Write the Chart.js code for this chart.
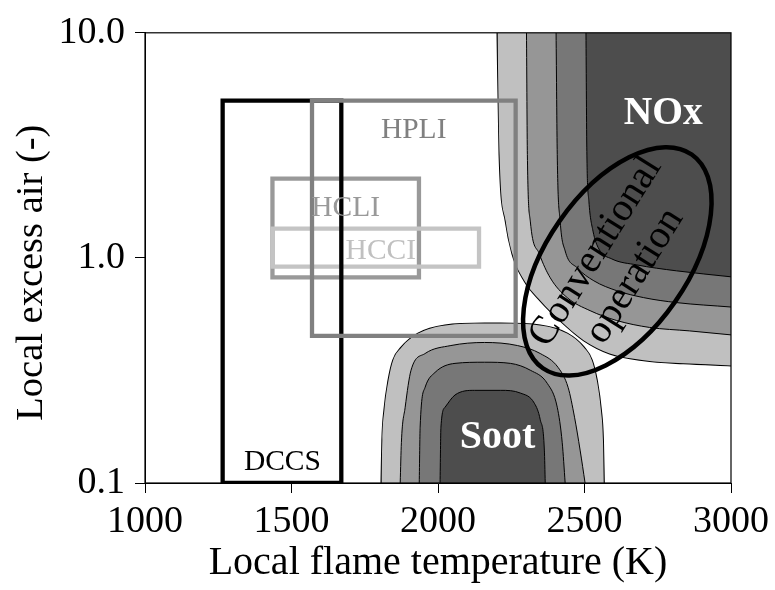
<!DOCTYPE html>
<html>
<head>
<meta charset="utf-8">
<script src="https://cdn.jsdelivr.net/npm/chart.js@4.4.1/dist/chart.umd.min.js"></script>
<style>
  html, body { margin: 0; padding: 0; background: #fff; }
  #wrap { width: 775px; height: 590px; }
</style>
</head>
<body>
<div id="wrap"><canvas id="chart" width="775" height="590"></canvas></div>
<script>
// Axis ticks
const tempTicks = [1000, 1500, 2000, 2500, 3000];
const airTicks = [0.1, 1.0, 10.0];

// NOx formation contours: [flame temperature K, excess air], outer band to core
const noxLevel1 = [[2203,10],[2210,2.88],[2231,1.457],[2254,1.041],[2295,0.791],[2349,0.646],[2417,0.527],[2498,0.430],[2586,0.376],[2702,0.351],[2837,0.340],[3000,0.333]];
const noxLevel2 = [[2302,10],[2305,2.88],[2315,1.457],[2346,1.041],[2383,0.816],[2441,0.666],[2519,0.583],[2610,0.527],[2722,0.491],[2858,0.474],[3000,0.455]];
const noxLevel3 = [[2403,10],[2407,2.88],[2417,1.457],[2434,1.074],[2475,0.903],[2532,0.791],[2610,0.715],[2702,0.666],[2814,0.633],[3000,0.605]];
const noxLevel4 = [[2505,10],[2508,2.97],[2515,1.786],[2529,1.316],[2549,1.096],[2593,0.990],[2678,0.931],[2814,0.876],[3000,0.824]];

// Soot formation contours
const sootLevel1 = [[1807,0.1],[1810,0.155],[1817,0.211],[1831,0.286],[1847,0.351],[1875,0.400],[1932,0.461],[2024,0.501],[2159,0.511],[2214,0.511],[2349,0.501],[2441,0.461],[2498,0.400],[2525,0.351],[2542,0.286],[2556,0.211],[2563,0.155],[2566,0.1]];
const sootLevel2 = [[1871,0.1],[1875,0.151],[1888,0.217],[1908,0.317],[1956,0.376],[2044,0.408],[2159,0.421],[2271,0.408],[2349,0.376],[2410,0.326],[2444,0.266],[2466,0.196],[2485,0.140],[2502,0.1]];
const sootLevel3 = [[1936,0.1],[1939,0.177],[1956,0.266],[1990,0.310],[2058,0.340],[2159,0.344],[2247,0.340],[2315,0.317],[2373,0.277],[2407,0.217],[2424,0.151],[2434,0.1]];
const sootLevel4 = [[2007,0.1],[2010,0.177],[2024,0.217],[2058,0.246],[2125,0.258],[2214,0.258],[2281,0.251],[2329,0.226],[2349,0.191],[2363,0.140],[2366,0.1]];

// Combustion concept windows: temperature range and excess-air range
const dccsTemp = [1265, 1670]; const dccsAir = [0.1, 5.0];
const hpliTemp = [1570, 2265]; const hpliAir = [0.45, 5.0];
const hcliTemp = [1435, 1935]; const hcliAir = [0.82, 2.25];
const hcciTemp = [1435, 2140]; const hcciAir = [0.915, 1.35];

const SERIF = "'Liberation Serif', 'Times New Roman', serif";
const bandColors = ['#c0c0c0', '#969696', '#777777', '#4d4d4d'];

const toPts = list => list.map(([t, a]) => ({ x: t, y: a }));
const boxPts = (t, a) => [
  { x: t[0], y: a[0] }, { x: t[0], y: a[1] }, { x: t[1], y: a[1] },
  { x: t[1], y: a[0] }, { x: t[0], y: a[0] }
];

function contour(list, color, fillTo, order, width) {
  return {
    data: toPts(list), fill: fillTo, backgroundColor: color,
    borderColor: width ? '#000' : 'rgba(0,0,0,0)', borderWidth: width,
    pointRadius: 0, cubicInterpolationMode: 'monotone', order
  };
}
function box(t, a, color, order) {
  return {
    data: boxPts(t, a), fill: false, borderColor: color, borderWidth: 4.3,
    borderJoinStyle: 'miter', borderCapStyle: 'square', pointRadius: 0, tension: 0, order
  };
}

const datasets = [
  // outer bands: outlines first, then repainted so the merged band has no inner seam
  contour(noxLevel1, bandColors[0], 'end', 100, 2),
  contour(sootLevel1, bandColors[0], 'start', 99, 2),
  contour(noxLevel1, bandColors[0], 'end', 98, 0),
  contour(sootLevel1, bandColors[0], 'start', 97, 0),
  contour(noxLevel2, bandColors[1], 'end', 90, 1),
  contour(sootLevel2, bandColors[1], 'start', 89, 1),
  contour(noxLevel3, bandColors[2], 'end', 80, 1),
  contour(sootLevel3, bandColors[2], 'start', 79, 1),
  contour(noxLevel4, bandColors[3], 'end', 70, 1),
  contour(sootLevel4, bandColors[3], 'start', 69, 1),
  box(hcliTemp, hcliAir, '#999999', 53),
  box(hcciTemp, hcciAir, '#c4c4c4', 52),
  box(dccsTemp, dccsAir, '#000000', 51),
  box(hpliTemp, hpliAir, '#808080', 50)
];

// Annotations placed in data coordinates
const conceptLabels = [
  { text: 'HPLI', at: [1917, 3.40], color: '#808080', size: 29.5, weight: 'normal' },
  { text: 'HCLI', at: [1685, 1.53], color: '#999999', size: 29.5, weight: 'normal' },
  { text: 'HCCI', at: [1805, 0.987], color: '#c0c0c0', size: 29.5, weight: 'normal' },
  { text: 'DCCS', at: [1469, 0.1145], color: '#000000', size: 29.5, weight: 'normal' },
  { text: 'NOx', at: [2769, 3.95], color: '#ffffff', size: 39.5, weight: 'bold' },
  { text: 'Soot', at: [2203, 0.1432], color: '#ffffff', size: 40, weight: 'bold' }
];
const operationEllipse = { center: [2612, 0.965], major: [2866, 2.88], minor: [2809, 0.638] };
const operationText = { lines: ['Conventional', 'operation'], at: [2605, 0.94], angle: -58, size: 40, gap: 46 };
const yTitle = { text: 'Local excess air (-)', x: 32, centerAir: 0.86, size: 38.5 };

const overlay = {
  id: 'overlay',
  afterDatasetsDraw(chart) {
    const { ctx, chartArea: a, scales: { x, y } } = chart;
    const px = p => ({ x: x.getPixelForValue(p[0]), y: y.getPixelForValue(p[1]) });
    ctx.save();
    // plot frame
    ctx.strokeStyle = '#000';
    ctx.lineWidth = 1.2;
    ctx.strokeRect(a.left, a.top, a.right - a.left, a.bottom - a.top);

    // conventional operation ellipse
    const c = px(operationEllipse.center);
    const m = px(operationEllipse.major);
    const n = px(operationEllipse.minor);
    const ra = Math.hypot(m.x - c.x, m.y - c.y);
    const rb = Math.hypot(n.x - c.x, n.y - c.y);
    const rot = Math.atan2(m.y - c.y, m.x - c.x);
    ctx.beginPath();
    ctx.ellipse(c.x, c.y, ra, rb, rot, 0, Math.PI * 2);
    ctx.lineWidth = 4.5;
    ctx.strokeStyle = '#000';
    ctx.stroke();

    // region and concept labels
    ctx.textAlign = 'center';
    ctx.textBaseline = 'alphabetic';
    conceptLabels.forEach(l => {
      const p = px(l.at);
      ctx.font = `${l.weight} ${l.size}px ${SERIF}`;
      ctx.fillStyle = l.color;
      ctx.fillText(l.text, p.x, p.y);
    });

    // rotated two-line label inside the ellipse
    ctx.save();
    const t = px(operationText.at);
    ctx.translate(t.x, t.y);
    ctx.rotate(operationText.angle * Math.PI / 180);
    ctx.font = `normal ${operationText.size}px ${SERIF}`;
    ctx.fillStyle = '#000';
    ctx.textBaseline = 'middle';
    const nLines = operationText.lines.length;
    operationText.lines.forEach((s, i) => {
      ctx.fillText(s, 0, (i - (nLines - 1) / 2) * operationText.gap);
    });
    ctx.restore();

    // y-axis title
    ctx.save();
    ctx.translate(yTitle.x, y.getPixelForValue(yTitle.centerAir));
    ctx.rotate(-Math.PI / 2);
    ctx.font = `normal ${yTitle.size}px ${SERIF}`;
    ctx.fillStyle = '#000';
    ctx.textAlign = 'center';
    ctx.textBaseline = 'middle';
    ctx.fillText(yTitle.text, 0, 0);
    ctx.restore();

    ctx.restore();
  }
};

Chart.defaults.font.family = SERIF;
Chart.defaults.color = '#000';

new Chart(document.getElementById('chart'), {
  type: 'line',
  data: { datasets },
  options: {
    responsive: false,
    animation: false,
    events: [],
    layout: { padding: { top: 31, right: 40, bottom: 0, left: 0 } },
    plugins: { legend: { display: false }, tooltip: { enabled: false } },
    elements: { point: { radius: 0 } },
    scales: {
      x: {
        type: 'linear',
        min: tempTicks[0],
        max: tempTicks[tempTicks.length - 1],
        afterBuildTicks: s => { s.ticks = tempTicks.map(v => ({ value: v })); },
        afterFit: s => { s.height = 107; },
        ticks: { callback: v => String(v), font: { size: 38 }, color: '#000', padding: 6, maxRotation: 0, autoSkip: false },
        grid: { drawOnChartArea: false, drawTicks: true, tickLength: 10, color: '#000', lineWidth: 1 },
        border: { display: true, color: '#000', width: 1, z: 1 },
        title: { display: true, text: 'Local flame temperature (K)', color: '#000', font: { size: 40, lineHeight: 1 }, padding: { top: 0, bottom: 7 } }
      },
      y: {
        type: 'logarithmic',
        min: airTicks[0],
        max: airTicks[airTicks.length - 1],
        afterBuildTicks: s => { s.ticks = airTicks.map(v => ({ value: v })); },
        afterFit: s => { s.width = 145; },
        ticks: { callback: v => Number(v).toFixed(1), font: { size: 38 }, color: '#000', padding: 10, autoSkip: false },
        grid: { drawOnChartArea: false, drawTicks: true, tickLength: 10, color: '#000', lineWidth: 1 },
        border: { display: true, color: '#000', width: 1, z: 1 },
        title: { display: false }
      }
    }
  },
  plugins: [overlay]
});
</script>
</body>
</html>
